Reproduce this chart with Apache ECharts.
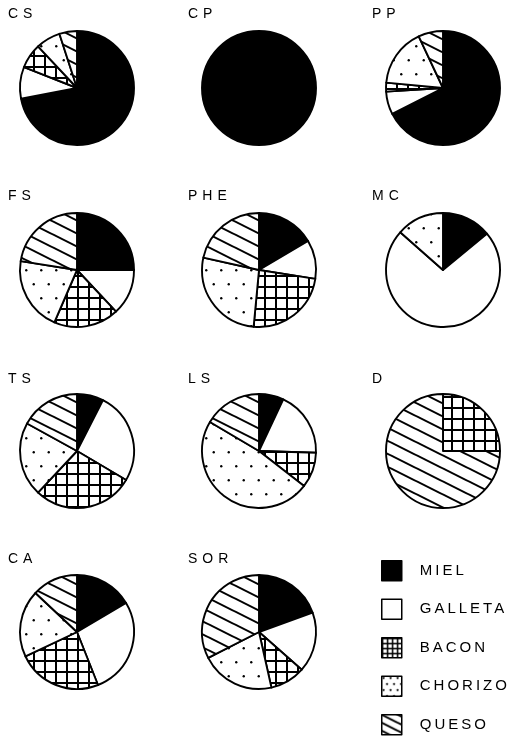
<!DOCTYPE html>
<html>
<head>
<meta charset="utf-8">
<script src="https://cdn.jsdelivr.net/npm/echarts@6/dist/echarts.min.js"></script>
<style>
html,body{margin:0;padding:0;background:#fff;}
#c{width:512px;height:736px;}
</style>
</head>
<body>
<div id="c"></div>
<script>
// ---- data ----
const categories = ['MIEL', 'GALLETA', 'BACON', 'CHORIZO', 'QUESO'];
const pieNames = ['CS', 'CP', 'PP', 'FS', 'PHE', 'MC', 'TS', 'LS', 'D', 'CA', 'SOR'];
const CS  = [72, 9, 7, 7, 5];
const CP  = [100, 0, 0, 0, 0];
const PP  = [67.5, 6.5, 2.5, 16.5, 7];
const FS  = [25, 13, 18.5, 21, 22.5];
const PHE = [16.5, 11, 24, 27, 21.5];
const MC  = [14, 72.5, 0, 13.5, 0];
const TS  = [7.5, 26, 28.5, 21, 17];
const LS  = [7, 18.5, 10, 48, 16.5];
const D   = [0, 0, 25, 0, 75];
const CA  = [16.5, 27.5, 24, 19, 13];
const SOR = [19.5, 17, 10, 21, 32.5];
const pieValues = [CS, CP, PP, FS, PHE, MC, TS, LS, D, CA, SOR];

// ---- layout ----
const colX = [77, 259, 443];
const rowY = [88, 270, 451, 632];
const labelX = [8, 188, 372];
const labelTop = [7, 189, 372, 552];
const R = 57;

// letter spacing for all drawn text (the reference is letter-spaced)
(function(){
  const proto = CanvasRenderingContext2D.prototype;
  const orig = proto.fillText;
  proto.fillText = function(t, x, y, w){
    const m = /(\d+(?:\.\d+)?)px/.exec(this.font);
    const fs = m ? +m[1] : 12;
    try { this.letterSpacing = fs >= 15 ? '3px' : '5px'; } catch(e) {}
    const r = w === undefined ? orig.call(this, t, x, y) : orig.call(this, t, x, y, w);
    try { this.letterSpacing = '0px'; } catch(e) {}
    return r;
  };
})();

// ---- patterns ----
function tile(w, h, draw){
  const c = document.createElement('canvas');
  c.width = w; c.height = h;
  const g = c.getContext('2d');
  g.fillStyle = '#fff'; g.fillRect(0, 0, w, h);
  g.fillStyle = '#000'; g.strokeStyle = '#000';
  draw(g, w, h);
  return {image: c, repeat: 'repeat'};
}
function gridPat(step, lw){
  return tile(step, step, (g) => {
    g.fillRect(0, 0, step, lw);
    g.fillRect(0, 0, lw, step);
  });
}
function dotPat(sx, sy, d){
  return tile(sx, sy * 2, (g) => {
    g.beginPath(); g.arc(sx * 0.25, sy * 0.3, d, 0, Math.PI * 2); g.fill();
    g.beginPath(); g.arc(sx * 0.75, sy * 1.3, d, 0, Math.PI * 2); g.fill();
  });
}
function stripePat(per, lw){
  const w = per * 2, h = per;
  return tile(w, h, (g) => {
    g.lineWidth = lw;
    for (let k = -2; k <= 2; k++) {
      g.beginPath();
      g.moveTo(-w, -h + k * h);
      g.lineTo(2 * w, 0.5 * 3 * w - h + k * h);
      g.stroke();
    }
  });
}

const pieFills = [
  '#000',
  '#fff',
  gridPat(11, 2),
  dotPat(15, 14, 1.2),
  stripePat(13, 2)
];
const legendFills = [
  '#000',
  '#fff',
  gridPat(5, 1.5),
  dotPat(7, 6, 1.1),
  stripePat(8, 2)
];

const font = "'Liberation Sans', Arial, sans-serif";

const series = pieValues.map((vals, i) => ({
  type: 'pie',
  name: pieNames[i],
  center: [colX[i % 3], rowY[Math.floor(i / 3)]],
  radius: R,
  startAngle: 90,
  clockwise: true,
  silent: true,
  animation: false,
  avoidLabelOverlap: false,
  label: {show: false},
  labelLine: {show: false},
  emphasis: {disabled: true},
  itemStyle: {borderColor: '#000', borderWidth: 1.9},
  data: vals.map((v, k) => ({
    name: categories[k],
    value: v,
    itemStyle: {color: pieFills[k]}
  })).filter(d => d.value > 0)
}));

const titles = pieNames.map((n, i) => ({
  text: n,
  left: labelX[i % 3],
  top: labelTop[Math.floor(i / 3)],
  padding: 0,
  textStyle: {fontSize: 14, fontWeight: 'normal', fontFamily: font, color: '#000'}
}));

const chart = echarts.init(document.getElementById('c'), null, {renderer: 'canvas'});
chart.setOption({
  backgroundColor: '#fff',
  animation: false,
  title: titles,
  legend: {
    orient: 'vertical',
    left: 381,
    top: 560,
    width: 131,
    height: 176,
    padding: 0,
    itemWidth: 20,
    itemHeight: 20,
    itemGap: 17,
    selectedMode: false,
    icon: 'rect',
    textStyle: {fontSize: 15, lineHeight: 18, fontFamily: font, color: '#000', padding: [0, 0, 0, 13]},
    data: categories.map((c, k) => ({
      name: c,
      itemStyle: {color: legendFills[k], borderColor: '#000', borderWidth: 1.5}
    }))
  },
  series: series
});
</script>
</body>
</html>
